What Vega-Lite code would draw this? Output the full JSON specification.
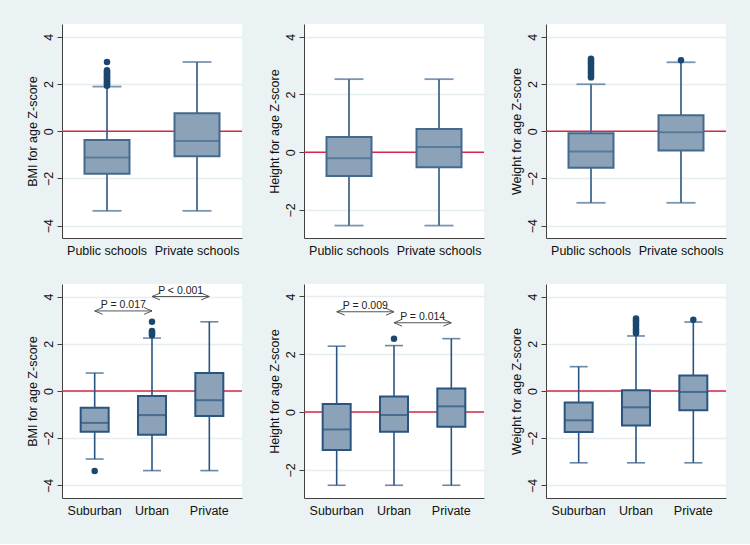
{
  "$schema": "https://vega.github.io/schema/vega-lite/v6.json",
  "background": "#EAF2F3",
  "padding": {"left": 26, "top": 24, "right": 25, "bottom": 27},
  "datasets": {
    "stats": [
      {"p": 1, "g": "Public schools", "lo": -3.37, "q1": -1.80, "med": -1.11, "q3": -0.37, "hi": 1.89},
      {"p": 1, "g": "Private schools", "lo": -3.37, "q1": -1.06, "med": -0.41, "q3": 0.76, "hi": 2.93},
      {"p": 2, "g": "Public schools", "lo": -2.54, "q1": -0.82, "med": -0.21, "q3": 0.53, "hi": 2.53},
      {"p": 2, "g": "Private schools", "lo": -2.54, "q1": -0.52, "med": 0.18, "q3": 0.80, "hi": 2.53},
      {"p": 3, "g": "Public schools", "lo": -3.03, "q1": -1.55, "med": -0.86, "q3": -0.08, "hi": 1.99},
      {"p": 3, "g": "Private schools", "lo": -3.03, "q1": -0.82, "med": -0.04, "q3": 0.68, "hi": 2.92},
      {"p": 4, "g": "Suburban", "lo": -2.88, "q1": -1.73, "med": -1.35, "q3": -0.71, "hi": 0.76},
      {"p": 4, "g": "Urban", "lo": -3.37, "q1": -1.85, "med": -1.02, "q3": -0.21, "hi": 2.24},
      {"p": 4, "g": "Private", "lo": -3.37, "q1": -1.06, "med": -0.39, "q3": 0.76, "hi": 2.93},
      {"p": 5, "g": "Suburban", "lo": -2.53, "q1": -1.31, "med": -0.60, "q3": 0.28, "hi": 2.28},
      {"p": 5, "g": "Urban", "lo": -2.53, "q1": -0.68, "med": -0.10, "q3": 0.54, "hi": 2.30},
      {"p": 5, "g": "Private", "lo": -2.53, "q1": -0.51, "med": 0.20, "q3": 0.82, "hi": 2.54},
      {"p": 6, "g": "Suburban", "lo": -3.04, "q1": -1.74, "med": -1.24, "q3": -0.49, "hi": 1.03},
      {"p": 6, "g": "Urban", "lo": -3.04, "q1": -1.46, "med": -0.69, "q3": 0.03, "hi": 2.33},
      {"p": 6, "g": "Private", "lo": -3.04, "q1": -0.81, "med": -0.04, "q3": 0.66, "hi": 2.92}
    ],
    "out": [
      {"p": 1, "g": "Public schools", "v": 1.93}, {"p": 1, "g": "Public schools", "v": 1.98},
      {"p": 1, "g": "Public schools", "v": 2.03}, {"p": 1, "g": "Public schools", "v": 2.08},
      {"p": 1, "g": "Public schools", "v": 2.13}, {"p": 1, "g": "Public schools", "v": 2.18},
      {"p": 1, "g": "Public schools", "v": 2.23}, {"p": 1, "g": "Public schools", "v": 2.28},
      {"p": 1, "g": "Public schools", "v": 2.33}, {"p": 1, "g": "Public schools", "v": 2.38},
      {"p": 1, "g": "Public schools", "v": 2.43}, {"p": 1, "g": "Public schools", "v": 2.48},
      {"p": 1, "g": "Public schools", "v": 2.53}, {"p": 1, "g": "Public schools", "v": 2.58},
      {"p": 1, "g": "Public schools", "v": 2.93},
      {"p": 3, "g": "Public schools", "v": 2.28}, {"p": 3, "g": "Public schools", "v": 2.35},
      {"p": 3, "g": "Public schools", "v": 2.42}, {"p": 3, "g": "Public schools", "v": 2.50},
      {"p": 3, "g": "Public schools", "v": 2.57}, {"p": 3, "g": "Public schools", "v": 2.65},
      {"p": 3, "g": "Public schools", "v": 2.72}, {"p": 3, "g": "Public schools", "v": 2.80},
      {"p": 3, "g": "Public schools", "v": 2.88}, {"p": 3, "g": "Public schools", "v": 2.95},
      {"p": 3, "g": "Public schools", "v": 3.02}, {"p": 3, "g": "Public schools", "v": 3.07},
      {"p": 3, "g": "Private schools", "v": 3.01},
      {"p": 4, "g": "Suburban", "v": -3.39},
      {"p": 4, "g": "Urban", "v": 2.36}, {"p": 4, "g": "Urban", "v": 2.42},
      {"p": 4, "g": "Urban", "v": 2.48}, {"p": 4, "g": "Urban", "v": 2.54},
      {"p": 4, "g": "Urban", "v": 2.93},
      {"p": 5, "g": "Urban", "v": 2.54},
      {"p": 6, "g": "Urban", "v": 2.45}, {"p": 6, "g": "Urban", "v": 2.52},
      {"p": 6, "g": "Urban", "v": 2.60}, {"p": 6, "g": "Urban", "v": 2.68},
      {"p": 6, "g": "Urban", "v": 2.76}, {"p": 6, "g": "Urban", "v": 2.84},
      {"p": 6, "g": "Urban", "v": 2.92}, {"p": 6, "g": "Urban", "v": 3.00},
      {"p": 6, "g": "Urban", "v": 3.07},
      {"p": 6, "g": "Private", "v": 3.02}
    ],
    "arr": [
      {"p": 4, "pair": "a", "g": "Suburban", "v": 3.39, "end": "L"},
      {"p": 4, "pair": "a", "g": "Urban", "v": 3.39, "end": "R"},
      {"p": 4, "pair": "b", "g": "Urban", "v": 4.0, "end": "L"},
      {"p": 4, "pair": "b", "g": "Private", "v": 4.0, "end": "R"},
      {"p": 5, "pair": "a", "g": "Suburban", "v": 3.47, "end": "L"},
      {"p": 5, "pair": "a", "g": "Urban", "v": 3.47, "end": "R"},
      {"p": 5, "pair": "b", "g": "Urban", "v": 3.09, "end": "L"},
      {"p": 5, "pair": "b", "g": "Private", "v": 3.09, "end": "R"}
    ],
    "lab": [
      {"p": 4, "g": "Suburban", "v": 3.39, "t": "P = 0.017"},
      {"p": 4, "g": "Urban", "v": 4.0, "t": "P < 0.001"},
      {"p": 5, "g": "Suburban", "v": 3.47, "t": "P = 0.009"},
      {"p": 5, "g": "Urban", "v": 3.09, "t": "P = 0.014"}
    ]
  },
  "columns": 3,
  "spacing": {"row": 46, "column": 62},
  "bounds": "flush",
  "concat": [
    {
      "width": 180, "height": 214,
      "layer": [
        {"data": {"values": [{"z": 0}]}, "mark": {"type": "rule", "color": "#D42A48", "strokeWidth": 1.5},
         "encoding": {"y": {"field": "z", "type": "quantitative", "title": "BMI for age Z-score", "scale": {"domain": [-4.52, 4.54], "nice": false, "zero": false}, "axis": {"values": [-4, -2, 0, 2, 4]}}}},
        {"data": {"name": "stats"}, "transform": [{"filter": "datum.p == 1"}],
         "encoding": {"x": {"field": "g", "type": "nominal", "title": null, "scale": {"type": "band", "domain": ["Public schools", "Private schools"], "paddingInner": 0, "paddingOuter": 0}}},
         "layer": [
           {"mark": {"type": "rule", "color": "#44698D", "strokeWidth": 1.8}, "encoding": {"y": {"field": "lo", "type": "quantitative"}, "y2": {"field": "hi"}}},
           {"mark": {"type": "bar", "size": 45, "fill": "#8CA2B8", "stroke": "#44698D", "strokeWidth": 2}, "encoding": {"y": {"field": "q1", "type": "quantitative"}, "y2": {"field": "q3"}}},
           {"mark": {"type": "tick", "size": 45, "thickness": 2, "color": "#44698D"}, "encoding": {"y": {"field": "med", "type": "quantitative"}}},
           {"mark": {"type": "tick", "size": 29, "thickness": 1.8, "color": "#44698D"}, "encoding": {"y": {"field": "lo", "type": "quantitative"}}},
           {"mark": {"type": "tick", "size": 29, "thickness": 1.8, "color": "#44698D"}, "encoding": {"y": {"field": "hi", "type": "quantitative"}}}
         ]},
        {"data": {"name": "out"}, "transform": [{"filter": "datum.p == 1"}],
         "mark": {"type": "circle", "size": 42, "color": "#1A476F", "opacity": 1},
         "encoding": {"x": {"field": "g", "type": "nominal", "title": null}, "y": {"field": "v", "type": "quantitative"}}}
      ]
    },
    {
      "width": 180, "height": 214,
      "layer": [
        {"data": {"values": [{"z": 0}]}, "mark": {"type": "rule", "color": "#D42A48", "strokeWidth": 1.5},
         "encoding": {"y": {"field": "z", "type": "quantitative", "title": "Height for age Z-score", "scale": {"domain": [-2.97, 4.44], "nice": false, "zero": false}, "axis": {"values": [-2, 0, 2, 4]}}}},
        {"data": {"name": "stats"}, "transform": [{"filter": "datum.p == 2"}],
         "encoding": {"x": {"field": "g", "type": "nominal", "title": null, "scale": {"type": "band", "domain": ["Public schools", "Private schools"], "paddingInner": 0, "paddingOuter": 0}}},
         "layer": [
           {"mark": {"type": "rule", "color": "#44698D", "strokeWidth": 1.8}, "encoding": {"y": {"field": "lo", "type": "quantitative"}, "y2": {"field": "hi"}}},
           {"mark": {"type": "bar", "size": 45, "fill": "#8CA2B8", "stroke": "#44698D", "strokeWidth": 2}, "encoding": {"y": {"field": "q1", "type": "quantitative"}, "y2": {"field": "q3"}}},
           {"mark": {"type": "tick", "size": 45, "thickness": 2, "color": "#44698D"}, "encoding": {"y": {"field": "med", "type": "quantitative"}}},
           {"mark": {"type": "tick", "size": 29, "thickness": 1.8, "color": "#44698D"}, "encoding": {"y": {"field": "lo", "type": "quantitative"}}},
           {"mark": {"type": "tick", "size": 29, "thickness": 1.8, "color": "#44698D"}, "encoding": {"y": {"field": "hi", "type": "quantitative"}}}
         ]}
      ]
    },
    {
      "width": 180, "height": 214,
      "layer": [
        {"data": {"values": [{"z": 0}]}, "mark": {"type": "rule", "color": "#D42A48", "strokeWidth": 1.5},
         "encoding": {"y": {"field": "z", "type": "quantitative", "title": "Weight for age Z-score", "scale": {"domain": [-4.52, 4.54], "nice": false, "zero": false}, "axis": {"values": [-4, -2, 0, 2, 4]}}}},
        {"data": {"name": "stats"}, "transform": [{"filter": "datum.p == 3"}],
         "encoding": {"x": {"field": "g", "type": "nominal", "title": null, "scale": {"type": "band", "domain": ["Public schools", "Private schools"], "paddingInner": 0, "paddingOuter": 0}}},
         "layer": [
           {"mark": {"type": "rule", "color": "#44698D", "strokeWidth": 1.8}, "encoding": {"y": {"field": "lo", "type": "quantitative"}, "y2": {"field": "hi"}}},
           {"mark": {"type": "bar", "size": 45, "fill": "#8CA2B8", "stroke": "#44698D", "strokeWidth": 2}, "encoding": {"y": {"field": "q1", "type": "quantitative"}, "y2": {"field": "q3"}}},
           {"mark": {"type": "tick", "size": 45, "thickness": 2, "color": "#44698D"}, "encoding": {"y": {"field": "med", "type": "quantitative"}}},
           {"mark": {"type": "tick", "size": 29, "thickness": 1.8, "color": "#44698D"}, "encoding": {"y": {"field": "lo", "type": "quantitative"}}},
           {"mark": {"type": "tick", "size": 29, "thickness": 1.8, "color": "#44698D"}, "encoding": {"y": {"field": "hi", "type": "quantitative"}}}
         ]},
        {"data": {"name": "out"}, "transform": [{"filter": "datum.p == 3"}],
         "mark": {"type": "circle", "size": 42, "color": "#1A476F", "opacity": 1},
         "encoding": {"x": {"field": "g", "type": "nominal", "title": null}, "y": {"field": "v", "type": "quantitative"}}}
      ]
    },
    {
      "width": 180, "height": 214,
      "layer": [
        {"data": {"values": [{"z": 0}]}, "mark": {"type": "rule", "color": "#D42A48", "strokeWidth": 1.5},
         "encoding": {"y": {"field": "z", "type": "quantitative", "title": "BMI for age Z-score", "scale": {"domain": [-4.53, 4.53], "nice": false, "zero": false}, "axis": {"values": [-4, -2, 0, 2, 4]}}}},
        {"data": {"name": "stats"}, "transform": [{"filter": "datum.p == 4"}],
         "encoding": {"x": {"field": "g", "type": "nominal", "title": null, "scale": {"type": "band", "domain": ["Suburban", "Urban", "Private"], "paddingInner": 0, "paddingOuter": 0.07}}},
         "layer": [
           {"mark": {"type": "rule", "color": "#2A5580", "strokeWidth": 1.6}, "encoding": {"y": {"field": "lo", "type": "quantitative"}, "y2": {"field": "hi"}}},
           {"mark": {"type": "bar", "size": 28, "fill": "#8CA2B8", "stroke": "#2A5580", "strokeWidth": 2}, "encoding": {"y": {"field": "q1", "type": "quantitative"}, "y2": {"field": "q3"}}},
           {"mark": {"type": "tick", "size": 28, "thickness": 2, "color": "#2A5580"}, "encoding": {"y": {"field": "med", "type": "quantitative"}}},
           {"mark": {"type": "tick", "size": 18, "thickness": 1.6, "color": "#2A5580"}, "encoding": {"y": {"field": "lo", "type": "quantitative"}}},
           {"mark": {"type": "tick", "size": 18, "thickness": 1.6, "color": "#2A5580"}, "encoding": {"y": {"field": "hi", "type": "quantitative"}}}
         ]},
        {"data": {"name": "out"}, "transform": [{"filter": "datum.p == 4"}],
         "mark": {"type": "circle", "size": 42, "color": "#1A476F", "opacity": 1},
         "encoding": {"x": {"field": "g", "type": "nominal", "title": null}, "y": {"field": "v", "type": "quantitative"}}},
        {"data": {"name": "arr"}, "transform": [{"filter": "datum.p == 4"}],
         "mark": {"type": "line", "color": "#555555", "strokeWidth": 1},
         "encoding": {"x": {"field": "g", "type": "nominal", "title": null}, "y": {"field": "v", "type": "quantitative"}, "detail": {"field": "pair"}}},
        {"data": {"name": "arr"}, "transform": [{"filter": "datum.p == 4"}],
         "mark": {"type": "point", "filled": false, "color": "#555555", "strokeWidth": 1, "size": 64, "opacity": 1},
         "encoding": {"x": {"field": "g", "type": "nominal", "title": null}, "y": {"field": "v", "type": "quantitative"},
           "shape": {"field": "end", "type": "nominal", "legend": null, "scale": {"domain": ["L", "R"], "range": ["M0,0L2,-0.85M0,0L2,0.85", "M0,0L-2,-0.85M0,0L-2,0.85"]}}}},
        {"data": {"name": "lab"}, "transform": [{"filter": "datum.p == 4"}],
         "mark": {"type": "text", "fontSize": 10.5, "dy": -3, "baseline": "alphabetic", "color": "#222222"},
         "encoding": {"x": {"field": "g", "type": "nominal", "title": null, "bandPosition": 1}, "y": {"field": "v", "type": "quantitative"}, "text": {"field": "t"}}}
      ]
    },
    {
      "width": 180, "height": 214,
      "layer": [
        {"data": {"values": [{"z": 0}]}, "mark": {"type": "rule", "color": "#D42A48", "strokeWidth": 1.5},
         "encoding": {"y": {"field": "z", "type": "quantitative", "title": "Height for age Z-score", "scale": {"domain": [-2.97, 4.43], "nice": false, "zero": false}, "axis": {"values": [-2, 0, 2, 4]}}}},
        {"data": {"name": "stats"}, "transform": [{"filter": "datum.p == 5"}],
         "encoding": {"x": {"field": "g", "type": "nominal", "title": null, "scale": {"type": "band", "domain": ["Suburban", "Urban", "Private"], "paddingInner": 0, "paddingOuter": 0.07}}},
         "layer": [
           {"mark": {"type": "rule", "color": "#2A5580", "strokeWidth": 1.6}, "encoding": {"y": {"field": "lo", "type": "quantitative"}, "y2": {"field": "hi"}}},
           {"mark": {"type": "bar", "size": 28, "fill": "#8CA2B8", "stroke": "#2A5580", "strokeWidth": 2}, "encoding": {"y": {"field": "q1", "type": "quantitative"}, "y2": {"field": "q3"}}},
           {"mark": {"type": "tick", "size": 28, "thickness": 2, "color": "#2A5580"}, "encoding": {"y": {"field": "med", "type": "quantitative"}}},
           {"mark": {"type": "tick", "size": 18, "thickness": 1.6, "color": "#2A5580"}, "encoding": {"y": {"field": "lo", "type": "quantitative"}}},
           {"mark": {"type": "tick", "size": 18, "thickness": 1.6, "color": "#2A5580"}, "encoding": {"y": {"field": "hi", "type": "quantitative"}}}
         ]},
        {"data": {"name": "out"}, "transform": [{"filter": "datum.p == 5"}],
         "mark": {"type": "circle", "size": 42, "color": "#1A476F", "opacity": 1},
         "encoding": {"x": {"field": "g", "type": "nominal", "title": null}, "y": {"field": "v", "type": "quantitative"}}},
        {"data": {"name": "arr"}, "transform": [{"filter": "datum.p == 5"}],
         "mark": {"type": "line", "color": "#555555", "strokeWidth": 1},
         "encoding": {"x": {"field": "g", "type": "nominal", "title": null}, "y": {"field": "v", "type": "quantitative"}, "detail": {"field": "pair"}}},
        {"data": {"name": "arr"}, "transform": [{"filter": "datum.p == 5"}],
         "mark": {"type": "point", "filled": false, "color": "#555555", "strokeWidth": 1, "size": 64, "opacity": 1},
         "encoding": {"x": {"field": "g", "type": "nominal", "title": null}, "y": {"field": "v", "type": "quantitative"},
           "shape": {"field": "end", "type": "nominal", "legend": null, "scale": {"domain": ["L", "R"], "range": ["M0,0L2,-0.85M0,0L2,0.85", "M0,0L-2,-0.85M0,0L-2,0.85"]}}}},
        {"data": {"name": "lab"}, "transform": [{"filter": "datum.p == 5"}],
         "mark": {"type": "text", "fontSize": 10.5, "dy": -3, "baseline": "alphabetic", "color": "#222222"},
         "encoding": {"x": {"field": "g", "type": "nominal", "title": null, "bandPosition": 1}, "y": {"field": "v", "type": "quantitative"}, "text": {"field": "t"}}}
      ]
    },
    {
      "width": 180, "height": 214,
      "layer": [
        {"data": {"values": [{"z": 0}]}, "mark": {"type": "rule", "color": "#D42A48", "strokeWidth": 1.5},
         "encoding": {"y": {"field": "z", "type": "quantitative", "title": "Weight for age Z-score", "scale": {"domain": [-4.53, 4.53], "nice": false, "zero": false}, "axis": {"values": [-4, -2, 0, 2, 4]}}}},
        {"data": {"name": "stats"}, "transform": [{"filter": "datum.p == 6"}],
         "encoding": {"x": {"field": "g", "type": "nominal", "title": null, "scale": {"type": "band", "domain": ["Suburban", "Urban", "Private"], "paddingInner": 0, "paddingOuter": 0.07}}},
         "layer": [
           {"mark": {"type": "rule", "color": "#2A5580", "strokeWidth": 1.6}, "encoding": {"y": {"field": "lo", "type": "quantitative"}, "y2": {"field": "hi"}}},
           {"mark": {"type": "bar", "size": 28, "fill": "#8CA2B8", "stroke": "#2A5580", "strokeWidth": 2}, "encoding": {"y": {"field": "q1", "type": "quantitative"}, "y2": {"field": "q3"}}},
           {"mark": {"type": "tick", "size": 28, "thickness": 2, "color": "#2A5580"}, "encoding": {"y": {"field": "med", "type": "quantitative"}}},
           {"mark": {"type": "tick", "size": 18, "thickness": 1.6, "color": "#2A5580"}, "encoding": {"y": {"field": "lo", "type": "quantitative"}}},
           {"mark": {"type": "tick", "size": 18, "thickness": 1.6, "color": "#2A5580"}, "encoding": {"y": {"field": "hi", "type": "quantitative"}}}
         ]},
        {"data": {"name": "out"}, "transform": [{"filter": "datum.p == 6"}],
         "mark": {"type": "circle", "size": 42, "color": "#1A476F", "opacity": 1},
         "encoding": {"x": {"field": "g", "type": "nominal", "title": null}, "y": {"field": "v", "type": "quantitative"}}}
      ]
    }
  ],
  "config": {
    "font": "Liberation Sans",
    "view": {"fill": "white", "stroke": null},
    "axis": {
      "labelFont": "Liberation Sans", "labelFontSize": 12.5, "labelColor": "#111111",
      "titleFont": "Liberation Sans", "titleFontSize": 12.5, "titleFontWeight": "normal", "titleColor": "#111111",
      "domainColor": "#404040", "domainWidth": 1, "tickColor": "#404040", "tickWidth": 1
    },
    "axisX": {"ticks": false, "grid": false, "labelAngle": 0, "labelPadding": 6},
    "axisY": {"tickSize": 5, "labelAngle": -90, "labelAlign": "center", "labelBaseline": "bottom", "labelPadding": 2, "titlePadding": 3, "grid": true, "gridColor": "#E4EDF0", "gridWidth": 1.5}
  }
}
